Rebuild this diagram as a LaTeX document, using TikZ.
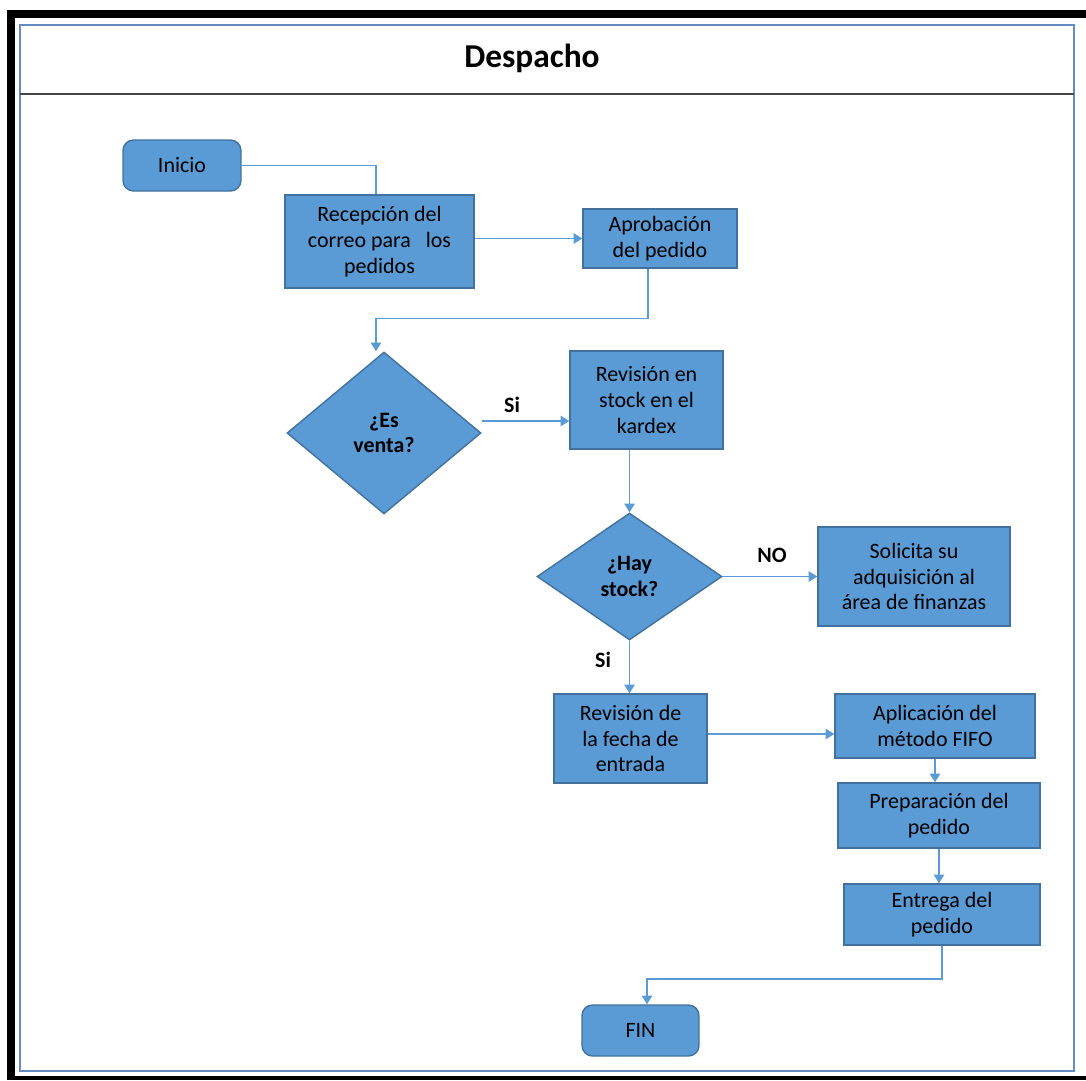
\documentclass[tikz,border=0pt]{standalone}
\usepackage{fontspec}
\setmainfont{Carlito}
\usetikzlibrary{shapes.geometric, arrows.meta}
\definecolor{cajaazul}{RGB}{91,155,213}
\definecolor{bordeazul}{RGB}{65,113,156}
\definecolor{lineaazul}{RGB}{91,155,213}
\definecolor{marcoazul}{RGB}{100,140,190}
\definecolor{lineagris}{RGB}{70,70,70}
\tikzset{
  proceso/.style={draw=bordeazul, fill=cajaazul, line width=0.8pt, align=center, inner sep=2pt, font=\fontsize{12.5}{14.7}\selectfont},
  terminal/.style={proceso, rounded corners=6pt},
  decision/.style={diamond, draw=bordeazul, fill=cajaazul, line width=0.8pt, align=center, inner sep=0pt, font=\bfseries\fontsize{12.5}{14.7}\selectfont},
  flecha/.style={draw=lineaazul, line width=0.9pt, -{Triangle[length=5pt,width=6pt]}},
  linea/.style={draw=lineaazul, line width=0.9pt},
  etiqueta/.style={font=\bfseries\fontsize{12.5}{14.7}\selectfont}
}

\begin{document}
\begin{tikzpicture}[x=0.02cm, y=-0.02cm]
            \useasboundingbox (0,0) rectangle (1086,1080);
            % marco
            \fill[black] (7,10) rectangle (1086,18);
            \fill[black] (7,10) rectangle (15,1080);
            \fill[black] (7,1076) rectangle (1086,1080);
            \draw[marcoazul, line width=1.2pt] (20,25) rectangle (1074,1071);
            \draw[lineagris, line width=1.2pt] (20,94) -- (1074,94);
            \node[font=\bfseries\fontsize{19}{22}\selectfont] (titulo) at (532,58) {Despacho};

            % pasos
            \node[terminal, minimum width=2.36cm, minimum height=1.02cm] (inicio) at (182,165.5) {Inicio};
            \node[proceso, minimum width=3.78cm, minimum height=1.86cm] (recepcion) at (379.5,241.5) {Recepción del\\correo para~~~los\\pedidos};
            \node[proceso, minimum width=3.08cm, minimum height=1.18cm] (aprobacion) at (660,238.5) {Aprobación\\del pedido};
            \node[decision, minimum width=3.88cm, minimum height=3.24cm] (esventa) at (384,433) {¿Es\\venta?};
            \node[proceso, minimum width=3.06cm, minimum height=1.96cm] (revstock) at (646.5,400) {Revisión en\\stock en el\\kardex};
            \node[decision, minimum width=3.7cm, minimum height=2.54cm] (haystock) at (629.5,576.5) {¿Hay\\stock?};
            \node[proceso, minimum width=3.84cm, minimum height=1.98cm] (solicita) at (914,576.5) {Solicita su\\adquisición al\\área de finanzas};
            \node[proceso, minimum width=3.06cm, minimum height=1.78cm] (revfecha) at (630.5,738.5) {Revisión de\\la fecha de\\entrada};
            \node[proceso, minimum width=4.0cm, minimum height=1.28cm] (aplicacion) at (935,726) {Aplicación del\\método FIFO};
            \node[proceso, minimum width=4.04cm, minimum height=1.3cm] (preparacion) at (939,815.5) {Preparación del\\pedido};
            \node[proceso, minimum width=3.92cm, minimum height=1.22cm] (entrega) at (942,914.5) {Entrega del\\pedido};
            \node[terminal, minimum width=2.34cm, minimum height=1.02cm] (fin) at (640.5,1030.5) {FIN};

            % conectores
            \draw[linea] (inicio.east) -| ([xshift=-0.07cm]recepcion.north);
            \draw[flecha] (recepcion.east |- aprobacion.west) -- (aprobacion.west);
            \draw[flecha] ([xshift=-0.24cm]aprobacion.south) -- ++(0,50) -| ([xshift=-0.16cm]esventa.north);
            \draw[flecha] ([yshift=0.24cm]esventa.east) -- ([yshift=0.24cm]esventa.east -| revstock.west);
            \draw[flecha] (revstock.south -| haystock.north) -- (haystock.north);
            \draw[flecha] (haystock.east) -- (solicita.west);
            \draw[flecha] (haystock.south) -- (haystock.south |- revfecha.north);
            \draw[flecha] ([yshift=0.09cm]revfecha.east) -- ([yshift=0.09cm]revfecha.east -| aplicacion.west);
            \draw[flecha] (aplicacion.south) -- (aplicacion.south |- preparacion.north);
            \draw[flecha] (preparacion.south) -- (preparacion.south |- entrega.north);
            \draw[flecha] (entrega.south) -- ++(0,33) -| ([xshift=0.13cm]fin.north);

            % etiquetas
            \node[etiqueta] (si1) at (512,405) {Si};
            \node[etiqueta] (no1) at (772,555) {NO};
            \node[etiqueta] (si2) at (603,660) {Si};
        \end{tikzpicture}
\end{document}
